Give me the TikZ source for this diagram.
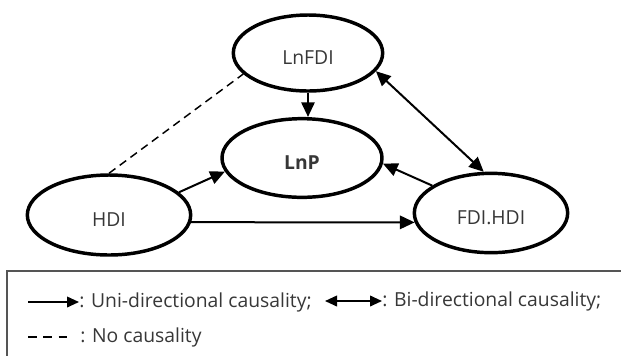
\documentclass[tikz,border=0pt]{standalone}
\usepackage{fontspec}
\setmainfont{Open Sans}
\usetikzlibrary{arrows.meta,shapes.geometric}

\definecolor{labelgray}{RGB}{55,55,55}
\definecolor{framegray}{RGB}{85,85,85}

\tikzset{
	var/.style={draw, ellipse, line width=2.6pt, inner sep=0pt, text=labelgray, font=\fontsize{14.5}{17}\selectfont, text height=17.5pt, text depth=0pt},
	causal/.style={line width=1.5pt, -{Triangle[length=11pt,width=10pt]}},
	bicausal/.style={line width=1.5pt, {Triangle[length=11pt,width=10pt]}-{Triangle[length=11pt,width=10pt]}},
	nocausal/.style={line width=1.1pt, dash pattern=on 6pt off 4pt},
	legtext/.style={anchor=west, inner sep=0pt, text=labelgray, font=\fontsize{14.5}{17}\selectfont}
}

\begin{document}
\begin{tikzpicture}[x=0.75pt,y=0.75pt,yscale=-1,xscale=1]
	\useasboundingbox (0,0) rectangle (621,355);
	\clip (0,0) rectangle (621,355);
	
	% variables
	\node [var, minimum width=112pt, minimum height=57pt] (LnFDI) at (308,53) {LnFDI};
	\node [var, minimum width=120pt, minimum height=59pt] (LnP) at (302,158) {\bfseries LnP};
	\node [var, minimum width=122.5pt, minimum height=60pt] (HDI) at (109,215) {HDI};
	\node [var, minimum width=115pt, minimum height=59.5pt] (FDIHDI) at (491,213) {FDI.HDI};
	
	% causality links
	\draw [causal] (LnFDI.south) -- (LnFDI.south |- LnP.north);
	\draw [causal] (HDI.18) -- (LnP.190);
	\draw [causal] (FDIHDI.155) -- (LnP.-4);
	\draw [causal] (HDI.-5) -- (FDIHDI.187);
	\draw [bicausal] (LnFDI.-15) -- (FDIHDI.100);
	\draw [nocausal] (HDI.north) -- (LnFDI.198);
	
	% legend
	\draw [framegray, line width=1pt] (7,271) rectangle (660,400);
	\coordinate (uniA) at (28,302);
	\coordinate (uniB) at (79,302);
	\coordinate (biA) at (325,301);
	\coordinate (biB) at (382,301);
	\coordinate (noA) at (28,337);
	\coordinate (noB) at (72,337);
	\draw [line width=1.3pt, -{Triangle[length=9pt,width=8pt]}] (uniA) -- (uniB);
	\draw [line width=1.3pt, {Triangle[length=9pt,width=8pt]}-{Triangle[length=9pt,width=8pt]}] (biA) -- (biB);
	\draw [line width=1.1pt, dash pattern=on 6.5pt off 5pt] (noA) -- (noB);
	\node [legtext] (uniT) at (uniB) {: Uni-directional causality;};
	\node [legtext] (biT) at (biB) {: Bi-directional causality;};
	\node [legtext] (noT) at (80,337) {: No causality};
	
\end{tikzpicture}
\end{document}
